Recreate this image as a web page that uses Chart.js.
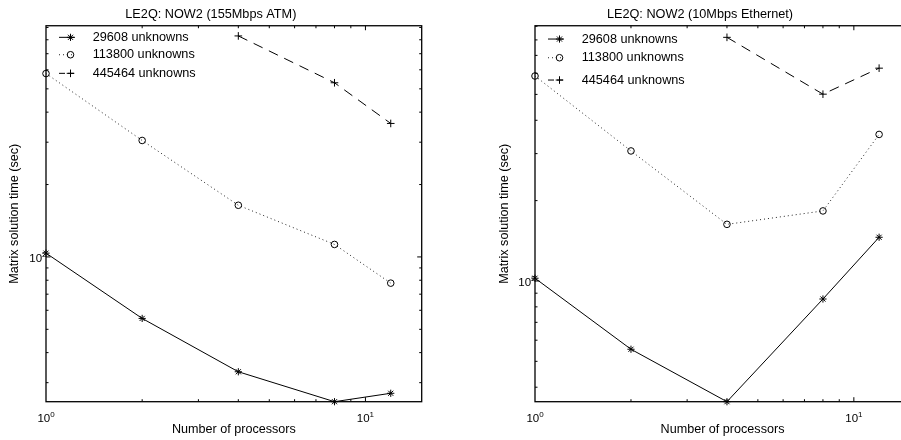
<!DOCTYPE html>
<html><head><meta charset="utf-8">
<script src="https://cdn.jsdelivr.net/npm/chart.js@4.4.1/dist/chart.umd.min.js"></script>
<style>
html,body{margin:0;padding:0;background:#fff;overflow:hidden;width:901px;height:440px;}
#c1{position:absolute;left:0;top:0;}
#c2{position:absolute;left:450px;top:0;}
</style></head><body>
<canvas id="c1" width="450" height="440" style="width:450px;height:440px"></canvas>
<canvas id="c2" width="470" height="440" style="width:470px;height:440px"></canvas>
<script>
// ---------- data ----------
const processors = [1, 2, 4, 8, 12];
const seriesNames = ['29608 unknowns', '113800 unknowns', '445464 unknowns'];
const atm29608  = [103.7, 55.5, 33.3, 25, 27.1];
const atm113800 = [579, 305, 164, 112.7, 77.8];
const atm445464 = [null, null, 830, 530, 359];
const eth29608  = [102.4, 55.5, 35.3, 85.6, 145.8];
const eth113800 = [586, 307, 163, 183, 354];
const eth445464 = [null, null, 818, 501, 627];
const chartTitles = ['LE2Q: NOW2 (155Mbps ATM)', 'LE2Q: NOW2 (10Mbps Ethernet)'];
const xAxisTitle = 'Number of processors';
const yAxisTitle = 'Matrix solution time (sec)';
const xMajorTicks = [1, 10];
const xTickExponents = ['0', '1'];
const xMinorTicks = [2, 3, 4, 5, 6, 7, 8, 9];
const yMajorTicks = [100];
const yTickExponents = ['2'];
const yMinorTicks = [20, 30, 40, 50, 60, 70, 80, 90, 200, 300, 400, 500, 600, 700, 800, 900];
const xRange = [1, 15];
const atmYRange = [25, 915];
const ethYRange = [35.3, 904];

// ---------- styling ----------
const FONT = "'Liberation Sans', Arial, Helvetica, sans-serif";
Chart.defaults.color = '#000';
Chart.defaults.font.family = FONT;

const styles = [
  {borderColor:'#000', borderWidth:1, borderDash:[], pointStyle:'star', pointRadius:3.6},
  {borderColor:'#222', borderWidth:1, borderDash:[1,3], pointStyle:'circle', pointRadius:3.3},
  {borderColor:'#000', borderWidth:1, borderDash:[10,7], pointStyle:'cross', pointRadius:3.8}
];

function toPoints(vals){
  const pts = [];
  vals.forEach((v,i)=>{ if (v !== null) pts.push({x: processors[i], y: v}); });
  return pts;
}

function drawMarker(ctx, style, x, y, r){
  ctx.save();
  ctx.setLineDash([]);
  ctx.strokeStyle = '#000'; ctx.lineWidth = 1;
  ctx.beginPath();
  if (style === 'circle') { ctx.arc(x, y, r, 0, Math.PI*2); }
  else {
    ctx.moveTo(x-r, y); ctx.lineTo(x+r, y);
    ctx.moveTo(x, y-r); ctx.lineTo(x, y+r);
    if (style === 'star') {
      const d = r*Math.SQRT1_2;
      ctx.moveTo(x-d, y-d); ctx.lineTo(x+d, y+d);
      ctx.moveTo(x-d, y+d); ctx.lineTo(x+d, y-d);
    }
  }
  ctx.stroke();
  ctx.restore();
}

const matlabAxes = {
  id: 'matlabAxes',
  beforeDatasetsDraw(chart) {
    const {ctx, chartArea: a, scales: {x, y}} = chart;
    ctx.save();
    ctx.strokeStyle = '#000';
    ctx.lineWidth = 1.3;
    ctx.strokeRect(a.left, a.top, a.right - a.left, a.bottom - a.top);
    ctx.lineWidth = 1;
    const xt = (vals, len) => vals.forEach(v => {
      if (v <= x.min || v >= x.max) return;
      const p = x.getPixelForValue(v);
      ctx.beginPath();
      ctx.moveTo(p, a.bottom); ctx.lineTo(p, a.bottom - len);
      ctx.moveTo(p, a.top); ctx.lineTo(p, a.top + len);
      ctx.stroke();
    });
    const yt = (vals, len) => vals.forEach(v => {
      if (v <= y.min || v >= y.max) return;
      const p = y.getPixelForValue(v);
      ctx.beginPath();
      ctx.moveTo(a.left, p); ctx.lineTo(a.left + len, p);
      ctx.moveTo(a.right, p); ctx.lineTo(a.right - len, p);
      ctx.stroke();
    });
    xt(xMajorTicks, 4.5); xt(xMinorTicks, 2.5);
    yt(yMajorTicks, 4.5); yt(yMinorTicks, 2.5);
    ctx.restore();
  },
  afterDraw(chart, args, opts) {
    const {ctx, chartArea: a, scales: {x, y}} = chart;
    ctx.save();
    ctx.fillStyle = '#000';
    const base = "11.5px " + FONT, sup = "8px " + FONT;
    // x tick labels
    xMajorTicks.forEach((v, i) => {
      if (v < x.min || v > x.max) return;
      const p = x.getPixelForValue(v);
      ctx.font = base; const w1 = ctx.measureText('10').width;
      ctx.font = sup; const w2 = ctx.measureText(xTickExponents[i]).width;
      const sx = p - (w1 + w2) / 2;
      ctx.textBaseline = 'alphabetic'; ctx.textAlign = 'left';
      ctx.font = base; ctx.fillText('10', sx, a.bottom + 20);
      ctx.font = sup; ctx.fillText(xTickExponents[i], sx + w1, a.bottom + 15);
    });
    // y tick labels
    yMajorTicks.forEach((v, i) => {
      if (v < y.min || v > y.max) return;
      const p = y.getPixelForValue(v);
      ctx.font = sup; const w2 = ctx.measureText(yTickExponents[i]).width;
      ctx.font = base; const w1 = ctx.measureText('10').width;
      const sx = a.left + 0.5 - w1 - w2;
      ctx.textBaseline = 'alphabetic'; ctx.textAlign = 'left';
      ctx.font = base; ctx.fillText('10', sx, p + 5);
      ctx.font = sup; ctx.fillText(yTickExponents[i], sx + w1, p);
    });
    // legend
    ctx.font = "12.7px " + FONT;
    ctx.textBaseline = 'middle'; ctx.textAlign = 'left';
    chart.data.datasets.forEach((ds, i) => {
      const ry = a.top + opts.rows[i];
      ctx.save();
      ctx.strokeStyle = ds.borderColor; ctx.lineWidth = 1;
      ctx.setLineDash(ds.borderDash.length ? (i === 2 ? [6, 3] : ds.borderDash) : []);
      ctx.beginPath(); ctx.moveTo(a.left + 13, ry); ctx.lineTo(a.left + 29, ry); ctx.stroke();
      ctx.restore();
      drawMarker(ctx, ds.pointStyle, a.left + 24.5, ry, ds.pointRadius);
      ctx.fillStyle = '#000';
      ctx.fillText(ds.label, a.left + 46.7, ry);
    });
    ctx.restore();
  }
};

function makeChart(id, title, series, yRange, padLeft, padRight, rows) {
  return new Chart(document.getElementById(id), {
    type: 'line',
    data: {
      datasets: series.map((vals, i) => Object.assign({
        label: seriesNames[i],
        data: toPoints(vals),
        pointBorderColor: '#000',
        pointBackgroundColor: 'rgba(0,0,0,0)',
        backgroundColor: 'rgba(0,0,0,0)',
        pointBorderWidth: 1,
        fill: false,
        tension: 0,
        clip: false
      }, styles[i]))
    },
    options: {
      responsive: false,
      animation: false,
      events: [],
      layout: {padding: {left: padLeft, right: padRight, top: 0, bottom: 0}},
      plugins: {
        legend: {display: false},
        tooltip: {enabled: false},
        title: {display: true, text: title, color: '#000',
                font: {size: 12.7, weight: 'normal', family: FONT},
                padding: {top: 6.4, bottom: 4.1}},
        matlabAxes: {rows: rows}
      },
      scales: {
        x: {
          type: 'logarithmic', min: xRange[0], max: xRange[1],
          grid: {display: false}, border: {display: false},
          ticks: {display: false},
          title: {display: true, text: xAxisTitle, color: '#000',
                  font: {size: 12.6, family: FONT}, padding: {top: 0, bottom: 2.8}},
          afterFit(s) { s.height = 38.3; }
        },
        y: {
          type: 'logarithmic', min: yRange[0], max: yRange[1],
          grid: {display: false}, border: {display: false},
          ticks: {display: false},
          title: {display: true, text: yAxisTitle, color: '#000',
                  font: {size: 12.6, family: FONT}, padding: {top: 7.1, bottom: 0}},
          afterFit(s) { s.width = 46 - (padLeft > 0 ? 1 : 0); }
        }
      }
    },
    plugins: [matlabAxes]
  });
}

makeChart('c1', chartTitles[0], [atm29608, atm113800, atm445464], atmYRange, 0, 28.3, [11.6, 29, 47.6]);
makeChart('c2', chartTitles[1], [eth29608, eth113800, eth445464], ethYRange, 40, 10, [13.3, 32, 54.3]);
</script>
</body></html>
